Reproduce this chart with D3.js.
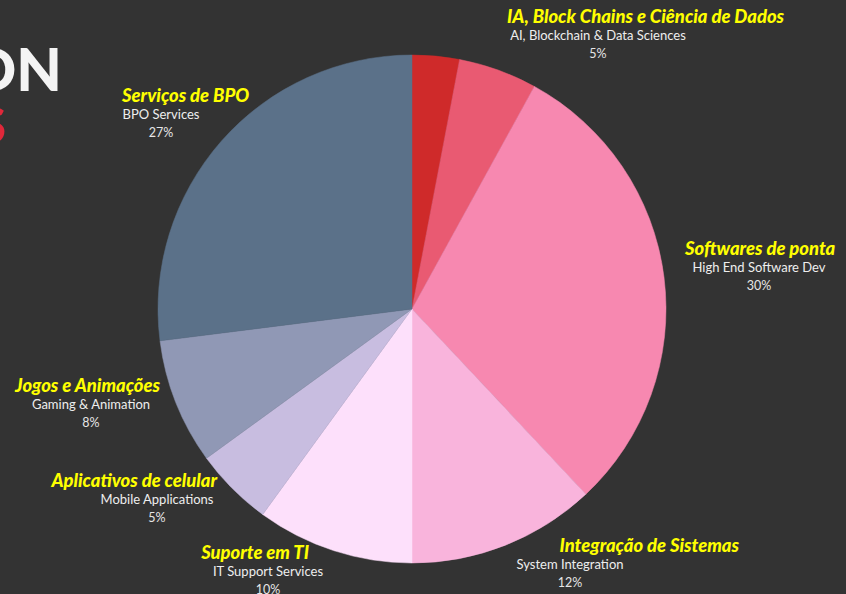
<!DOCTYPE html>
<html lang="en">
<head>
    <meta charset="UTF-8">
    <title>Pie</title>
    <script src="https://cdnjs.cloudflare.com/ajax/libs/d3/7.8.5/d3.min.js"></script>
    <style>
        body {
            margin: 0;
            background: #333333;
        }
        .title {
            fill: #ffff00;
            font-family: Lato, sans-serif;
            font-weight: 900;
            font-style: italic;
            font-size: 18.4px;
        }
        .sub {
            fill: #eeeeee;
            font-family: Lato, sans-serif;
            font-size: 13px;
            text-anchor: middle;
        }
        .pct {
            fill: #e6e6e6;
            font-family: Lato, sans-serif;
            font-size: 12.5px;
            text-anchor: middle;
        }
    </style>
</head>
<body>
    <div id="wrapper"></div>
    <script>
        // data
        const titles = ['', 'IA, Block Chains e Ciência de Dados', 'Softwares de ponta', 'Integração de Sistemas',
            'Suporte em TI', 'Aplicativos de celular', 'Jogos e Animações', 'Serviços de BPO']
        const categories = ['', 'AI, Blockchain & Data Sciences', 'High End Software Dev', 'System Integration',
            'IT Support Services', 'Mobile Applications', 'Gaming & Animation', 'BPO Services']
        const shares = [3, 5, 30, 12, 10, 5, 8, 27]
        const colors = ['#cf2a2a', '#e95a72', '#f788b0', '#f9b4dc', '#fde0fb', '#c8bde0', '#9098b5', '#5b7189']

        // label layout: subtitle centre x, title x, title anchor, y of title baseline
        const labelPos = [
            null,
            { cx: 598, tx: 507, anchor: 'start', y: 23 },
            { cx: 759, tx: 685, anchor: 'start', y: 255 },
            { cx: 570, tx: 739, anchor: 'end', y: 552 },
            { cx: 268, tx: 309, anchor: 'end', y: 559 },
            { cx: 157, tx: 217, anchor: 'end', y: 487 },
            { cx: 91, tx: 160, anchor: 'end', y: 392 },
            { cx: 161, tx: 122, anchor: 'start', y: 102 },
        ]

        const dataset = shares.map((v, i) => ({ title: titles[i], cat: categories[i], value: v, color: colors[i], pos: labelPos[i] }))

        const dimensions = { width: 846, height: 594, cx: 412, cy: 309, radius: 254 }

        const svg = d3.select('#wrapper')
            .append('svg')
                .attr('width', dimensions.width)
                .attr('height', dimensions.height)

        // cut-off heading on the left
        svg.append('text')
            .attr('x', 62)
            .attr('y', 91)
            .attr('text-anchor', 'end')
            .attr('fill', '#f4f4f4')
            .style('font-family', 'Lato, sans-serif')
            .style('font-weight', 900)
            .style('font-size', '59px')
            .text('ON')
        svg.append('text')
            .attr('x', 6)
            .attr('y', 143)
            .attr('text-anchor', 'end')
            .attr('fill', '#e0283a')
            .style('font-family', 'Lato, sans-serif')
            .style('font-weight', 900)
            .style('font-size', '50px')
            .text('S')

        const pie = d3.pie().sort(null).value(d => d.value)
        const arc = d3.arc().innerRadius(0).outerRadius(dimensions.radius)

        const g = svg.append('g')
            .attr('transform', `translate(${dimensions.cx},${dimensions.cy})`)

        g.selectAll('path')
            .data(pie(dataset))
            .join('path')
                .attr('d', arc)
                .attr('fill', d => d.data.color)
                .attr('stroke', d => d.data.color)
                .attr('stroke-width', 0.5)

        const labels = svg.append('g')
            .selectAll('g')
            .data(dataset.filter(d => d.pos))
            .join('g')

        labels.append('text')
            .attr('class', 'title')
            .attr('x', d => d.pos.tx)
            .attr('y', d => d.pos.y)
            .attr('text-anchor', d => d.pos.anchor)
            .text(d => d.title)

        labels.append('text')
            .attr('class', 'sub')
            .attr('x', d => d.pos.cx)
            .attr('y', d => d.pos.y + 17)
            .text(d => d.cat)

        labels.append('text')
            .attr('class', 'pct')
            .attr('x', d => d.pos.cx)
            .attr('y', d => d.pos.y + 35)
            .text(d => d.value + '%')
    </script>
</body>
</html>
